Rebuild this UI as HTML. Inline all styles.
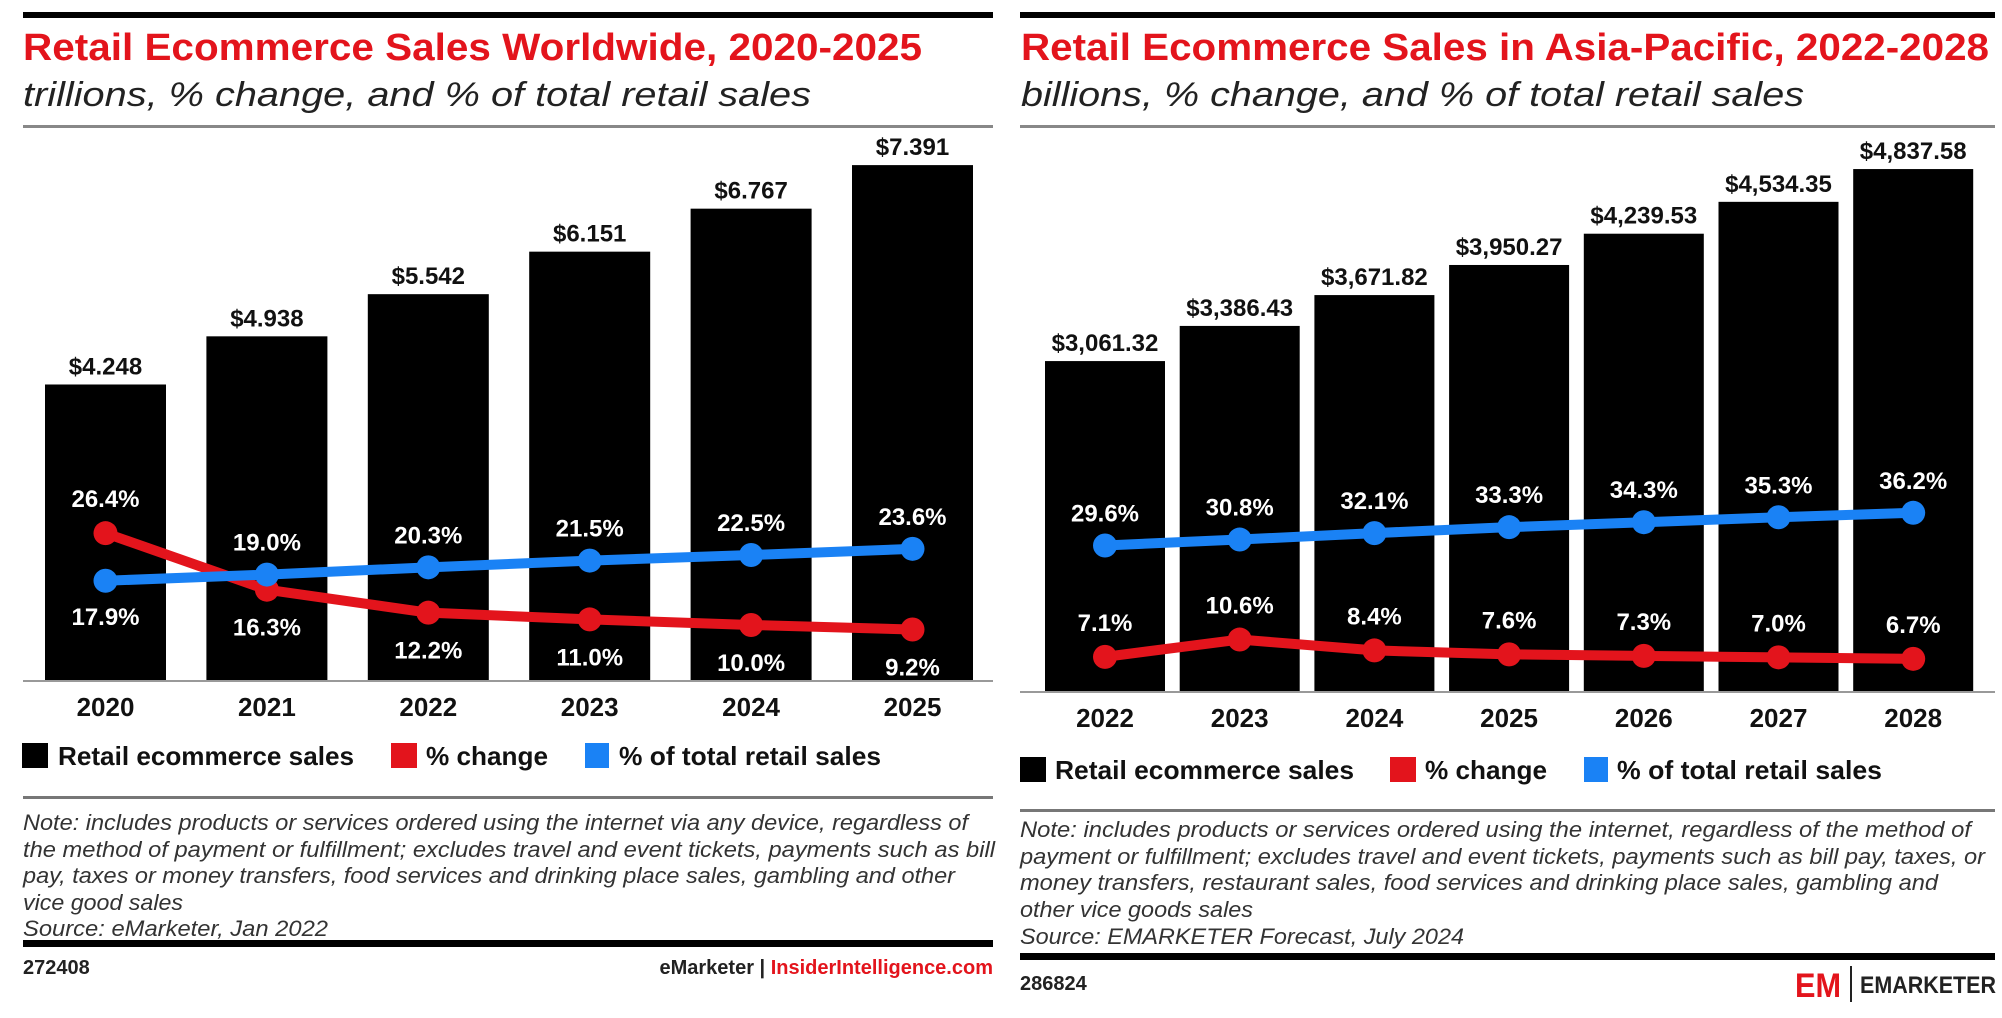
<!DOCTYPE html>
<html><head><meta charset="utf-8"><style>
html,body{margin:0;padding:0;background:#fff;}
svg{display:block;font-family:"Liberation Sans",sans-serif;}
.t{font-weight:bold;fill:#e3141c;}
.s{font-style:italic;fill:#222;}
.n{font-style:italic;fill:#333;font-size:22px;}
.v{font-weight:bold;fill:#111;font-size:24px;}
.p{font-weight:bold;fill:#fff;font-size:24px;}
.x{font-weight:bold;fill:#111;font-size:26px;}
.l{font-weight:bold;fill:#111;font-size:26px;}
</style></head><body>
<svg id="svg" width="2002" height="1018" viewBox="0 0 2002 1018">
<!-- left panel -->
<g>
<rect x="23" y="12" width="970" height="6" fill="#000"/>
<text class="t" x="23" y="60" font-size="38" textLength="899" lengthAdjust="spacingAndGlyphs">Retail Ecommerce Sales Worldwide, 2020-2025</text>
<text class="s" x="23" y="106" font-size="34" textLength="788" lengthAdjust="spacingAndGlyphs">trillions, % change, and % of total retail sales</text>
<rect x="23" y="125" width="970" height="3" fill="#888"/>
<g id="L"></g>
<rect x="23" y="680" width="970" height="2" fill="#999"/>
<rect x="22" y="743" width="26" height="25" fill="#000"/>
<text class="l" x="58" y="765" textLength="296" lengthAdjust="spacingAndGlyphs">Retail ecommerce sales</text>
<rect x="391" y="743" width="26" height="25" fill="#e3141c"/>
<text class="l" x="426" y="765" textLength="122" lengthAdjust="spacingAndGlyphs">% change</text>
<rect x="585" y="743" width="24" height="25" fill="#1a82f5"/>
<text class="l" x="619" y="765" textLength="262" lengthAdjust="spacingAndGlyphs">% of total retail sales</text>
<rect x="23" y="796" width="970" height="3" fill="#777"/>
<g>
<text class="n" x="23" y="830" textLength="945" lengthAdjust="spacingAndGlyphs">Note: includes products or services ordered using the internet via any device, regardless of</text>
<text class="n" x="23" y="857" textLength="972" lengthAdjust="spacingAndGlyphs">the method of payment or fulfillment; excludes travel and event tickets, payments such as bill</text>
<text class="n" x="23" y="883" textLength="932" lengthAdjust="spacingAndGlyphs">pay, taxes or money transfers, food services and drinking place sales, gambling and other</text>
<text class="n" x="23" y="910" textLength="160" lengthAdjust="spacingAndGlyphs">vice good sales</text>
<text class="n" x="23" y="936" textLength="305" lengthAdjust="spacingAndGlyphs">Source: eMarketer, Jan 2022</text>
</g>
<rect x="23" y="940" width="970" height="7" fill="#000"/>
<text x="23" y="974" font-size="20" font-weight="bold" fill="#222">272408</text>
<text x="993" y="974" font-size="20" font-weight="bold" text-anchor="end"><tspan fill="#222">eMarketer</tspan><tspan fill="#222"> | </tspan><tspan fill="#e3141c">InsiderIntelligence.com</tspan></text>
</g>
<!-- right panel -->
<g>
<rect x="1020" y="12" width="975" height="6" fill="#000"/>
<text class="t" x="1021" y="60" font-size="38" textLength="968" lengthAdjust="spacingAndGlyphs">Retail Ecommerce Sales in Asia-Pacific, 2022-2028</text>
<text class="s" x="1021" y="106" font-size="34" textLength="783" lengthAdjust="spacingAndGlyphs">billions, % change, and % of total retail sales</text>
<rect x="1020" y="125" width="975" height="3" fill="#888"/>
<g id="R"></g>
<rect x="1020" y="691" width="975" height="2" fill="#999"/>
<rect x="1020" y="757" width="26" height="25" fill="#000"/>
<text class="l" x="1055" y="779" textLength="299" lengthAdjust="spacingAndGlyphs">Retail ecommerce sales</text>
<rect x="1390" y="757" width="26" height="25" fill="#e3141c"/>
<text class="l" x="1425" y="779" textLength="122" lengthAdjust="spacingAndGlyphs">% change</text>
<rect x="1584" y="757" width="24" height="25" fill="#1a82f5"/>
<text class="l" x="1617" y="779" textLength="265" lengthAdjust="spacingAndGlyphs">% of total retail sales</text>
<rect x="1020" y="809" width="975" height="3" fill="#777"/>
<g>
<text class="n" x="1020" y="837" textLength="951" lengthAdjust="spacingAndGlyphs">Note: includes products or services ordered using the internet, regardless of the method of</text>
<text class="n" x="1020" y="864" textLength="965" lengthAdjust="spacingAndGlyphs">payment or fulfillment; excludes travel and event tickets, payments such as bill pay, taxes, or</text>
<text class="n" x="1020" y="890" textLength="918" lengthAdjust="spacingAndGlyphs">money transfers, restaurant sales, food services and drinking place sales, gambling and</text>
<text class="n" x="1020" y="917" textLength="233" lengthAdjust="spacingAndGlyphs">other vice goods sales</text>
<text class="n" x="1020" y="944" textLength="444" lengthAdjust="spacingAndGlyphs">Source: EMARKETER Forecast, July 2024</text>
</g>
<rect x="1020" y="953" width="975" height="7" fill="#000"/>
<text x="1020" y="990" font-size="20" font-weight="bold" fill="#222">286824</text>
<g>
<text x="1795" y="997" font-size="34" font-weight="bold" fill="#e3141c" textLength="46" lengthAdjust="spacingAndGlyphs">EM</text>
<rect x="1850" y="966" width="2" height="36" fill="#222"/>
<text x="1860" y="993" font-size="24" font-weight="bold" fill="#222" textLength="136" lengthAdjust="spacingAndGlyphs">EMARKETER</text>
</g>
</g>
</svg>
<script>
const NS="http://www.w3.org/2000/svg";
// Worldwide data
const wwYears=["2020","2021","2022","2023","2024","2025"];
const wwSales=[4.248,4.938,5.542,6.151,6.767,7.391];
const wwSalesLabels=["$4.248","$4.938","$5.542","$6.151","$6.767","$7.391"];
const wwChange=[26.4,16.3,12.2,11.0,10.0,9.2];
const wwShare=[17.9,19.0,20.3,21.5,22.5,23.6];
// Asia-Pacific data
const apYears=["2022","2023","2024","2025","2026","2027","2028"];
const apSales=[3061.32,3386.43,3671.82,3950.27,4239.53,4534.35,4837.58];
const apSalesLabels=["$3,061.32","$3,386.43","$3,671.82","$3,950.27","$4,239.53","$4,534.35","$4,837.58"];
const apChange=[7.1,10.6,8.4,7.6,7.3,7.0,6.7];
const apShare=[29.6,30.8,32.1,33.3,34.3,35.3,36.2];

function mk(g,tag,attrs,txt){const e=document.createElementNS(NS,tag);for(const k in attrs)e.setAttribute(k,attrs[k]);if(txt!=null)e.textContent=txt;g.appendChild(e);return e;}
function fmt(v){return v.toFixed(1)+"%";}

function draw(g,cfg){
  const {years,sales,salesLabels,change,share,x0,step,bw,base,sy,py,changeBelow,shareBelowFirst,labelY}=cfg;
  const xc=i=>x0+i*step+bw/2;
  const ys=v=>base-v*sy;
  const yp=v=>base-v*py;
  years.forEach((yr,i)=>{
    const b=mk(g,"rect",{x:x0+i*step,y:ys(sales[i]),width:bw,height:base-ys(sales[i]),fill:"#000"});
    
    
    const t=mk(g,"text",{class:"v",x:xc(i),y:ys(sales[i])-10,"text-anchor":"middle"},salesLabels[i]);
    
    
    const a=mk(g,"text",{class:"x",x:xc(i),y:labelY,"text-anchor":"middle"},yr);
    
    
  });
  [[change,"#e3141c","change"],[share,"#1a82f5","share"]].forEach(([arr,col,nm])=>{
    const pl=mk(g,"polyline",{points:arr.map((v,i)=>xc(i)+","+yp(v)).join(" "),fill:"none",stroke:col,"stroke-width":10,"stroke-linejoin":"round"});
    
    
    arr.forEach((v,i)=>{
      const c=mk(g,"circle",{cx:xc(i),cy:yp(v),r:12,fill:col});
      
      
    });
  });
  change.forEach((v,i)=>{
    const below=changeBelow&&i>0;
    const t=mk(g,"text",{class:"p",x:xc(i),y:below?yp(v)+46:yp(v)-26,"text-anchor":"middle"},fmt(v));
    
    
  });
  share.forEach((v,i)=>{
    const below=shareBelowFirst&&i===0;
    const t=mk(g,"text",{class:"p",x:xc(i),y:below?yp(v)+44:yp(v)-24,"text-anchor":"middle"},fmt(v));
    
    
  });
}
draw(document.getElementById("L"),{years:wwYears,sales:wwSales,salesLabels:wwSalesLabels,change:wwChange,share:wwShare,
  x0:45,step:161.4,bw:121,base:681,sy:69.8,py:5.6,changeBelow:true,shareBelowFirst:true,labelY:716});
draw(document.getElementById("R"),{years:apYears,sales:apSales,salesLabels:apSalesLabels,change:apChange,share:apShare,
  x0:1045,step:134.7,bw:120,base:692,sy:0.1081,py:4.95,changeBelow:false,shareBelowFirst:false,labelY:727});
</script>
</body></html>
